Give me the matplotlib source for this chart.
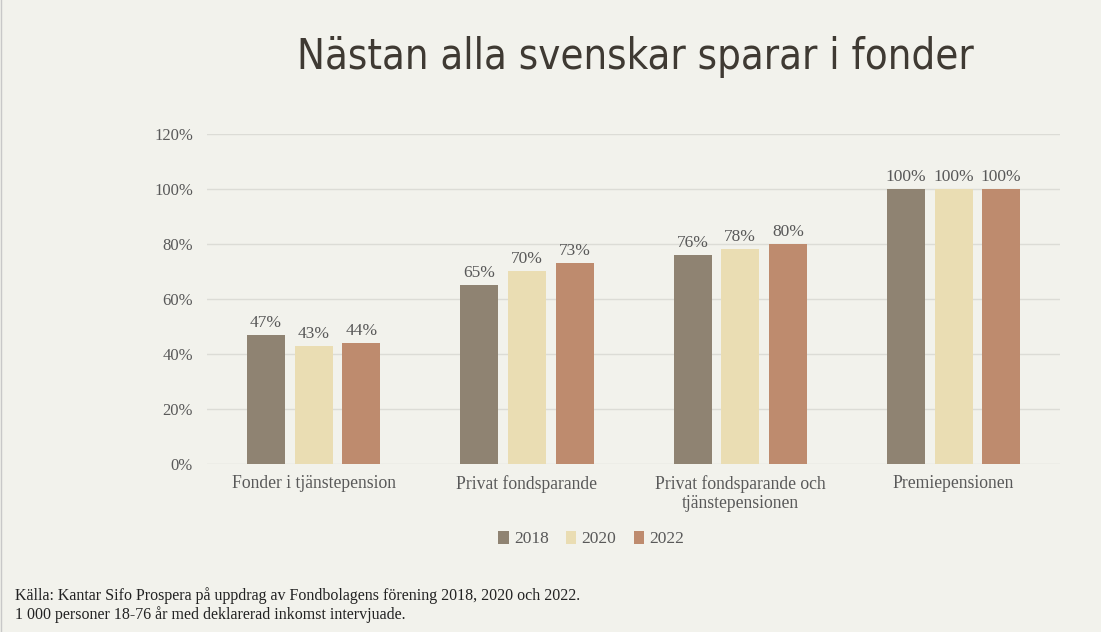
import numpy as np
import matplotlib.pyplot as plt
from matplotlib.lines import Line2D
from matplotlib.ticker import PercentFormatter

categories = ['Fonder i tjänstepension', 'Privat fondsparande',
              'Privat fondsparande och\ntjänstepensionen', 'Premiepensionen']
years = ['2018', '2020', '2022']
v2018 = [47, 65, 76, 100]
v2020 = [43, 70, 78, 100]
v2022 = [44, 73, 80, 100]
series = [v2018, v2020, v2022]
colors = ['#8f8372', '#eaddb3', '#be8b6e']

bg = '#f2f2ec'
txt = '#595959'
serif = ['Liberation Serif', 'DejaVu Serif']

fig = plt.figure(figsize=(11.01, 6.32), dpi=100, facecolor=bg)
ax = fig.add_axes([0.188, 0.2658, 0.775, 0.5222], facecolor=bg)

x = np.arange(len(categories))
w = 0.178
step = 0.223
for i, (vals, col, yr) in enumerate(zip(series, colors, years)):
    bars = ax.bar(x + (i - 1) * step, vals, width=w, color=col, label=yr, zorder=3)
    for b, v in zip(bars, vals):
        ax.text(b.get_x() + b.get_width() / 2, v + 1.5, f'{v}%', ha='center', va='bottom',
                fontsize=12.5, color=txt, family=serif)

ax.set_xlim(-0.5, 3.5)
ax.set_ylim(0, 120)
ax.set_yticks(np.arange(0, 121, 20))
ax.yaxis.set_major_formatter(PercentFormatter(decimals=0))
ax.grid(axis='y', color='#dcdcd6', linewidth=1, zorder=0)
for s in ax.spines.values():
    s.set_visible(False)
ax.tick_params(length=0)
ax.tick_params(axis='y', pad=10, labelcolor=txt, labelsize=12)
ax.tick_params(axis='x', pad=8, labelcolor=txt, labelsize=12.7)
ax.set_xticks(x)
ax.set_xticklabels(categories, linespacing=1.15)
for lab in ax.get_xticklabels() + ax.get_yticklabels():
    lab.set_family(serif)

leg = fig.legend(loc='center', bbox_to_anchor=(0.537, 0.147), ncol=3, frameon=False,
                 handlelength=0.6, handleheight=0.8, handletextpad=0.3, columnspacing=1.0,
                 prop={'family': serif, 'size': 12.5})
for t in leg.get_texts():
    t.set_color(txt)

fig.text(0.577, 0.91, 'Nästan alla svenskar sparar i fonder', ha='center', va='center',
         fontsize=30, color='#3f3a33', family='DejaVu Sans', fontstretch='condensed')

fig.text(0.014, 0.042, 'Källa: Kantar Sifo Prospera på uppdrag av Fondbolagens förening 2018, 2020 och 2022.\n'
         '1 000 personer 18-76 år med deklarerad inkomst intervjuade.',
         ha='left', va='center', fontsize=11.5, color='#222222', family=serif, linespacing=1.15)

fig.add_artist(Line2D([0.0005, 0.0005], [0, 1], transform=fig.transFigure, color='#c8c8c8', linewidth=1))

fig.savefig('out.png', dpi=100, facecolor=bg)
